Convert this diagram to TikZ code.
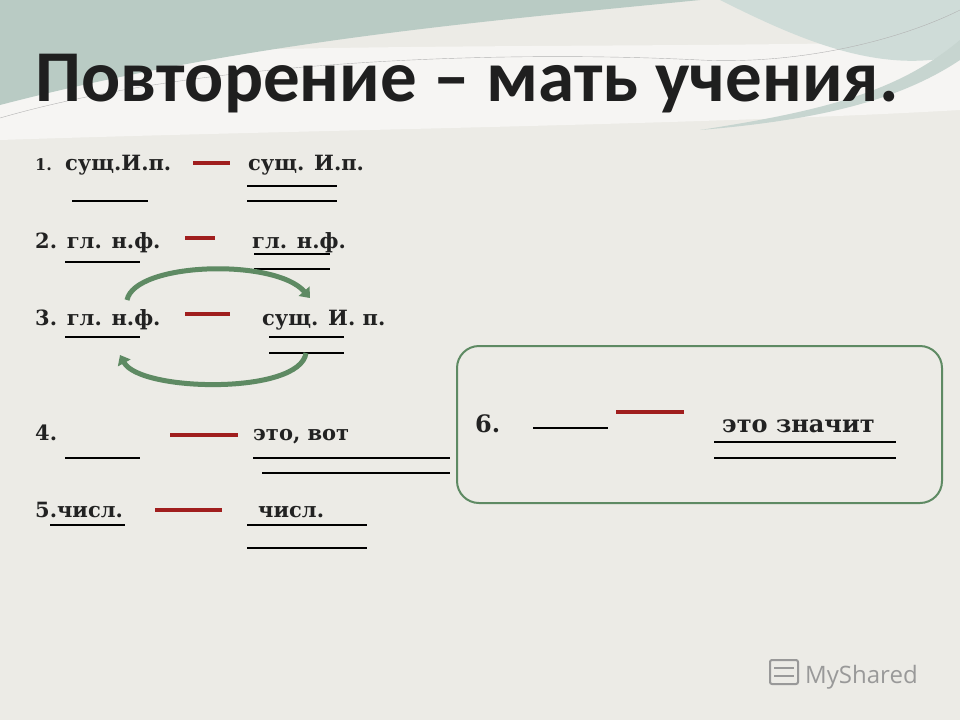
\documentclass[tikz,border=0pt]{standalone}
\usepackage{fontspec}
\setmainfont{DejaVu Serif}
\newfontfamily\titlefont{Carlito}
\newfontfamily\logofont{Open Sans}
\usetikzlibrary{arrows.meta}
\definecolor{bg}{HTML}{ECEBE6}
\definecolor{wave}{HTML}{B9CBC4}
\definecolor{wave2}{HTML}{CFDCD8}
\definecolor{redd}{HTML}{A01E1E}
\definecolor{grn}{HTML}{5E8A63}
\definecolor{txt}{HTML}{222222}
\tikzset{
  lbl/.style={anchor=base west,inner sep=0,text=txt,font=\bfseries\fontsize{21}{24}\selectfont},
  big/.style={anchor=base west,inner sep=0,text=txt,font=\bfseries\fontsize{24}{28}\selectfont},
  ul/.style={line width=2.2pt,black},
  rd/.style={line width=3.5pt,redd},
  arc/.style={line width=5pt,grn,-{Triangle[length=9pt,width=14pt]}}
}
\begin{document}
\begin{tikzpicture}[x=1pt,y=-1pt]
\useasboundingbox (0,0) rectangle (960,720);
\fill[bg] (0,0) rectangle (960,720);
% top waves
\fill[white!50!bg] (0,60) .. controls (300,40) and (700,50) .. (960,40) -- (960,110) .. controls (700,125) and (300,130) .. (0,140) -- cycle;
\fill[wave] (0,0) -- (700,0) .. controls (500,20) and (250,40) .. (0,105) -- cycle;
\fill[wave2] (720,0) -- (960,0) -- (960,55) .. controls (880,75) and (800,40) .. (720,0) -- cycle;
\fill[wave!80] (960,60) .. controls (900,100) and (820,120) .. (700,130) .. controls (830,110) and (900,90) .. (960,40) -- cycle;
\draw[gray!60,line width=0.4pt] (0,118) .. controls (200,60) and (500,50) .. (700,60) .. controls (800,65) and (900,40) .. (960,10);
\node[anchor=base,inner sep=0,font=\titlefont\bfseries\fontsize{73}{76}\selectfont,text=black!88] (title) at (467,101) {Повторение – мать учения.};
% line 1
\node[lbl,font=\bfseries\fontsize{16}{18}\selectfont] (n1) at (35,170) {1.};
\node[lbl] (a1) at (65,170) {сущ.И.п.};
\node[lbl] (b1) at (248,170) {сущ. И.п.};
\coordinate (r1a) at (193,163); \coordinate (r1b) at (230,163);
\draw[rd] (r1a) -- (r1b);
\coordinate (u1a) at (72,201); \coordinate (u1b) at (148,201); \draw[ul] (u1a) -- (u1b);
\coordinate (u1c) at (247,186); \coordinate (u1d) at (337,186); \draw[ul] (u1c) -- (u1d);
\coordinate (u1e) at (247,201); \coordinate (u1f) at (337,201); \draw[ul] (u1e) -- (u1f);
% line 2
\node[lbl] (a2) at (35,248) {2. гл. н.ф.};
\node[lbl] (b2) at (252,248) {гл. н.ф.};
\coordinate (r2a) at (185,238); \coordinate (r2b) at (215,238); \draw[rd] (r2a) -- (r2b);
\coordinate (u2a) at (65,262); \coordinate (u2b) at (140,262); \draw[ul] (u2a) -- (u2b);
\coordinate (u2c) at (254,254); \coordinate (u2d) at (330,254); \draw[ul] (u2c) -- (u2d);
\coordinate (u2e) at (254,269); \coordinate (u2f) at (330,269); \draw[ul] (u2e) -- (u2f);
% line 3
\node[lbl] (a3) at (35,325) {3. гл. н.ф.};
\node[lbl] (b3) at (262,325) {сущ. И. п.};
\coordinate (r3a) at (185,314); \coordinate (r3b) at (230,314); \draw[rd] (r3a) -- (r3b);
\coordinate (u3a) at (65,337); \coordinate (u3b) at (140,337); \draw[ul] (u3a) -- (u3b);
\coordinate (u3c) at (269,337); \coordinate (u3d) at (344,337); \draw[ul] (u3c) -- (u3d);
\coordinate (u3e) at (269,353); \coordinate (u3f) at (344,353); \draw[ul] (u3e) -- (u3f);
% arcs
\coordinate (t1) at (127,300); \coordinate (t2) at (310,298);
\draw[arc] (t1) .. controls (135,262) and (275,258) .. (t2);
\coordinate (s1) at (306,353); \coordinate (s2) at (120,355);
\draw[arc] (s1) .. controls (300,395) and (140,392) .. (s2);
% line 4
\node[lbl] (a4) at (35,440) {4.};
\node[lbl] (b4) at (253,440) {это, вот};
\coordinate (r4a) at (170,435); \coordinate (r4b) at (238,435); \draw[rd] (r4a) -- (r4b);
\coordinate (u4a) at (65,458); \coordinate (u4b) at (140,458); \draw[ul] (u4a) -- (u4b);
\coordinate (u4c) at (253,458); \coordinate (u4d) at (450,458); \draw[ul] (u4c) -- (u4d);
\coordinate (u4e) at (262,473); \coordinate (u4f) at (450,473); \draw[ul] (u4e) -- (u4f);
% line 5
\node[lbl] (a5) at (35,517) {5.числ.};
\node[lbl] (b5) at (258,517) {числ.};
\coordinate (r5a) at (155,510); \coordinate (r5b) at (222,510); \draw[rd] (r5a) -- (r5b);
\coordinate (u5a) at (50,525); \coordinate (u5b) at (125,525); \draw[ul] (u5a) -- (u5b);
\coordinate (u5c) at (247,525); \coordinate (u5d) at (367,525); \draw[ul] (u5c) -- (u5d);
\coordinate (u5e) at (247,548); \coordinate (u5f) at (367,548); \draw[ul] (u5e) -- (u5f);
% box 6
\draw[grn,line width=2pt,rounded corners=22pt] (457,346) rectangle (942,503);
\node[big] (a6) at (475,432) {6.};
\node[big] (b6) at (722,432) {это значит};
\coordinate (u6a) at (533,428); \coordinate (u6b) at (608,428); \draw[ul] (u6a) -- (u6b);
\coordinate (r6a) at (616,412); \coordinate (r6b) at (684,412); \draw[rd] (r6a) -- (r6b);
\coordinate (u6c) at (714,442); \coordinate (u6d) at (896,442); \draw[ul] (u6c) -- (u6d);
\coordinate (u6e) at (714,458); \coordinate (u6f) at (896,458); \draw[ul] (u6e) -- (u6f);
% logo
\node[anchor=base west,inner sep=0,font=\logofont\fontsize{24}{26}\selectfont,text=gray!80] (logo) at (805,683) {MyShared};
\draw[gray!80,line width=2pt,rounded corners=2pt] (770,660) rectangle (798,684);
\draw[gray!80,line width=1.5pt] (774,668) -- (794,668) (774,676) -- (794,676);
\end{tikzpicture}
\end{document}
